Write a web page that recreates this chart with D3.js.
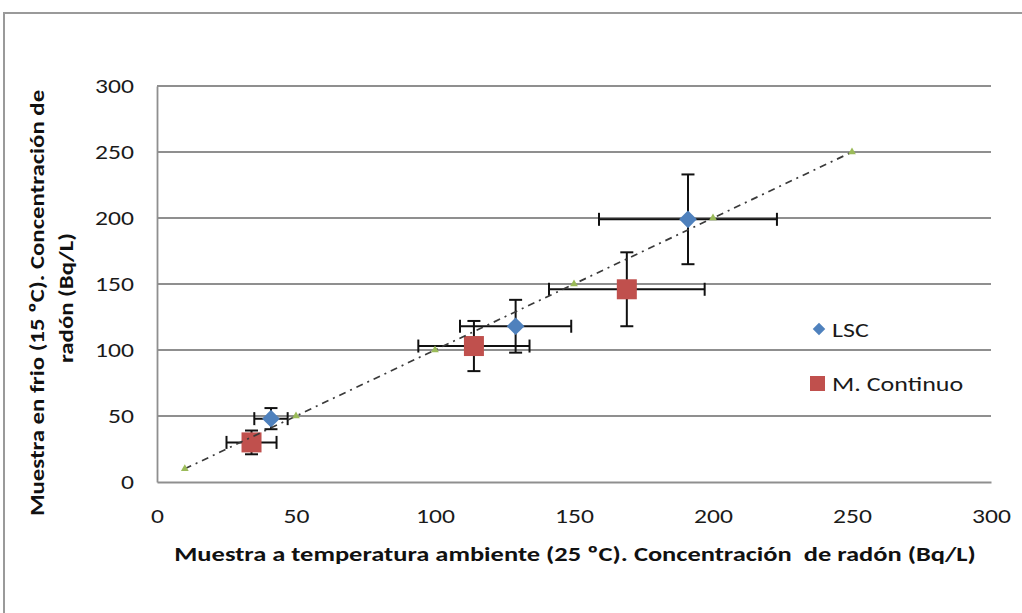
<!DOCTYPE html>
<html>
<head>
<meta charset="utf-8">
<script src="https://cdn.jsdelivr.net/npm/d3@7"></script>
<style>
  html, body { margin: 0; padding: 0; background: #fff; }
  svg { display: block; font-family: Carlito, Calibri, Lato, "Open Sans", sans-serif; }
</style>
</head>
<body>
<svg id="chart" width="1022" height="613"></svg>
<script>
// Radon concentration: cold sample (15 ºC) vs room-temperature sample (25 ºC)
const lscX    = [41, 129, 191];
const lscY    = [48, 118, 199];
const lscXErr = [6, 20, 32];
const lscYErr = [8, 20, 34];

const mcX    = [34, 114, 169];
const mcY    = [30, 103, 146];
const mcXErr = [9, 20, 28];
const mcYErr = [9, 19, 28];

// 1:1 reference line points
const refX = [10, 50, 100, 150, 200, 250];
const refY = [10, 50, 100, 150, 200, 250];

const xTicks = [0, 50, 100, 150, 200, 250, 300];
const yTicks = [0, 50, 100, 150, 200, 250, 300];

const seriesNames = ["LSC", "M. Continuo"];

const svg = d3.select("#chart");
const W = 1022, H = 613;
const plot = { left: 157, right: 991, top: 86, bottom: 482 };

const x = d3.scaleLinear().domain([0, 300]).range([plot.left, plot.right]);
const y = d3.scaleLinear().domain([0, 300]).range([plot.bottom, plot.top]);

// widen glyphs horizontally (the chart's font is set wide)
function widen(sel, factor) {
  sel.each(function () {
    const len = this.getComputedTextLength();
    d3.select(this).attr("textLength", len * factor).attr("lengthAdjust", "spacingAndGlyphs");
  });
}

// outer chart frame
svg.append("path")
  .attr("d", `M4,${H + 2} L4,13 L${W + 2},13`)
  .attr("fill", "none").attr("stroke", "#9a9a9a").attr("stroke-width", 2);

// horizontal gridlines
svg.append("g")
  .selectAll("line").data(yTicks.filter(d => d > 0)).join("line")
  .attr("x1", plot.left).attr("x2", plot.right)
  .attr("y1", d => y(d)).attr("y2", d => y(d))
  .attr("stroke", "#8f8f8f").attr("stroke-width", 1.8);

// axes
const xAxis = svg.append("g")
  .attr("transform", `translate(0,${plot.bottom})`)
  .call(d3.axisBottom(x).tickValues(xTicks).tickSize(0).tickPadding(26));
const yAxis = svg.append("g")
  .attr("transform", `translate(${plot.left},0)`)
  .call(d3.axisLeft(y).tickValues(yTicks).tickSize(0).tickPadding(23));

[xAxis, yAxis].forEach(g => {
  g.select(".domain").attr("stroke", "#8f8f8f").attr("stroke-width", 1.8);
  g.selectAll("text")
    .attr("font-size", 21)
    .attr("fill", "#1a1a1a")
    .attr("font-family", "Carlito, Calibri, Lato, sans-serif")
    .call(widen, 1.22);
});

// axis titles
svg.append("text")
  .attr("x", 575).attr("y", 561)
  .attr("text-anchor", "middle")
  .attr("font-size", 21).attr("font-weight", "bold").attr("fill", "#111")
  .style("white-space", "pre")
  .text("Muestra a temperatura ambiente (25 ºC). Concentración  de radón (Bq/L)")
  .call(widen, 1.26);

const yTitle1 = svg.append("text")
  .attr("transform", "translate(44,303) rotate(-90)")
  .attr("text-anchor", "middle")
  .attr("font-size", 21).attr("font-weight", "bold").attr("fill", "#111")
  .text("Muestra en frio (15 ºC). Concentración de")
  .call(widen, 1.18);
const yTitle2 = svg.append("text")
  .attr("transform", "translate(73,298) rotate(-90)")
  .attr("text-anchor", "middle")
  .attr("font-size", 21).attr("font-weight", "bold").attr("fill", "#111")
  .text("radón (Bq/L)")
  .call(widen, 1.18);

// error bars
function errorBars(xs, ys, xe, ye) {
  const g = svg.append("g").attr("stroke", "#111").attr("stroke-width", 2).attr("fill", "none");
  const cap = 6.5;
  xs.forEach((xv, i) => {
    const cx = x(xv), cy = y(ys[i]);
    const x0 = x(xv - xe[i]), x1 = x(xv + xe[i]);
    const y0 = y(ys[i] - ye[i]), y1 = y(ys[i] + ye[i]);
    g.append("line").attr("x1", x0).attr("x2", x1).attr("y1", cy).attr("y2", cy);
    g.append("line").attr("x1", x0).attr("x2", x0).attr("y1", cy - cap).attr("y2", cy + cap);
    g.append("line").attr("x1", x1).attr("x2", x1).attr("y1", cy - cap).attr("y2", cy + cap);
    g.append("line").attr("x1", cx).attr("x2", cx).attr("y1", y0).attr("y2", y1);
    g.append("line").attr("x1", cx - cap).attr("x2", cx + cap).attr("y1", y0).attr("y2", y0);
    g.append("line").attr("x1", cx - cap).attr("x2", cx + cap).attr("y1", y1).attr("y2", y1);
  });
}
errorBars(lscX, lscY, lscXErr, lscYErr);
errorBars(mcX, mcY, mcXErr, mcYErr);

const blue = "#4f81bd", red = "#c0504d", green = "#9bbb59";

// LSC diamonds
svg.append("g").selectAll("path").data(lscX).join("path")
  .attr("d", d3.symbol(d3.symbolDiamond2, 200))
  .attr("transform", (d, i) => `translate(${x(d)},${y(lscY[i])})`)
  .attr("fill", blue);

// M. Continuo squares
const sq = 20;
svg.append("g").selectAll("rect").data(mcX).join("rect")
  .attr("x", d => x(d) - sq / 2)
  .attr("y", (d, i) => y(mcY[i]) - sq / 2)
  .attr("width", sq).attr("height", sq)
  .attr("fill", red);

// 1:1 reference line (dash-dot) with small triangle markers
const refPts = refX.map((d, i) => [x(d), y(refY[i])]);
svg.append("path")
  .attr("d", d3.line()(refPts))
  .attr("fill", "none").attr("stroke", "#3a3a3a").attr("stroke-width", 1.7)
  .attr("stroke-dasharray", "7,5,2,5");
svg.append("g").selectAll("path").data(refPts).join("path")
  .attr("d", d3.symbol(d3.symbolTriangle, 26))
  .attr("transform", d => `translate(${d[0]},${d[1]})`)
  .attr("fill", green);

// legend
const legend = svg.append("g");
legend.append("path")
  .attr("d", d3.symbol(d3.symbolDiamond2, 100))
  .attr("transform", "translate(819,329)")
  .attr("fill", blue);
legend.append("rect")
  .attr("x", 810).attr("y", 376).attr("width", 15).attr("height", 15)
  .attr("fill", red);
legend.selectAll("text").data(seriesNames).join("text")
  .attr("x", 832).attr("y", (d, i) => 337 + i * 54)
  .attr("font-size", 20).attr("fill", "#1a1a1a")
  .text(d => d)
  .call(widen, 1.3);
</script>
</body>
</html>
